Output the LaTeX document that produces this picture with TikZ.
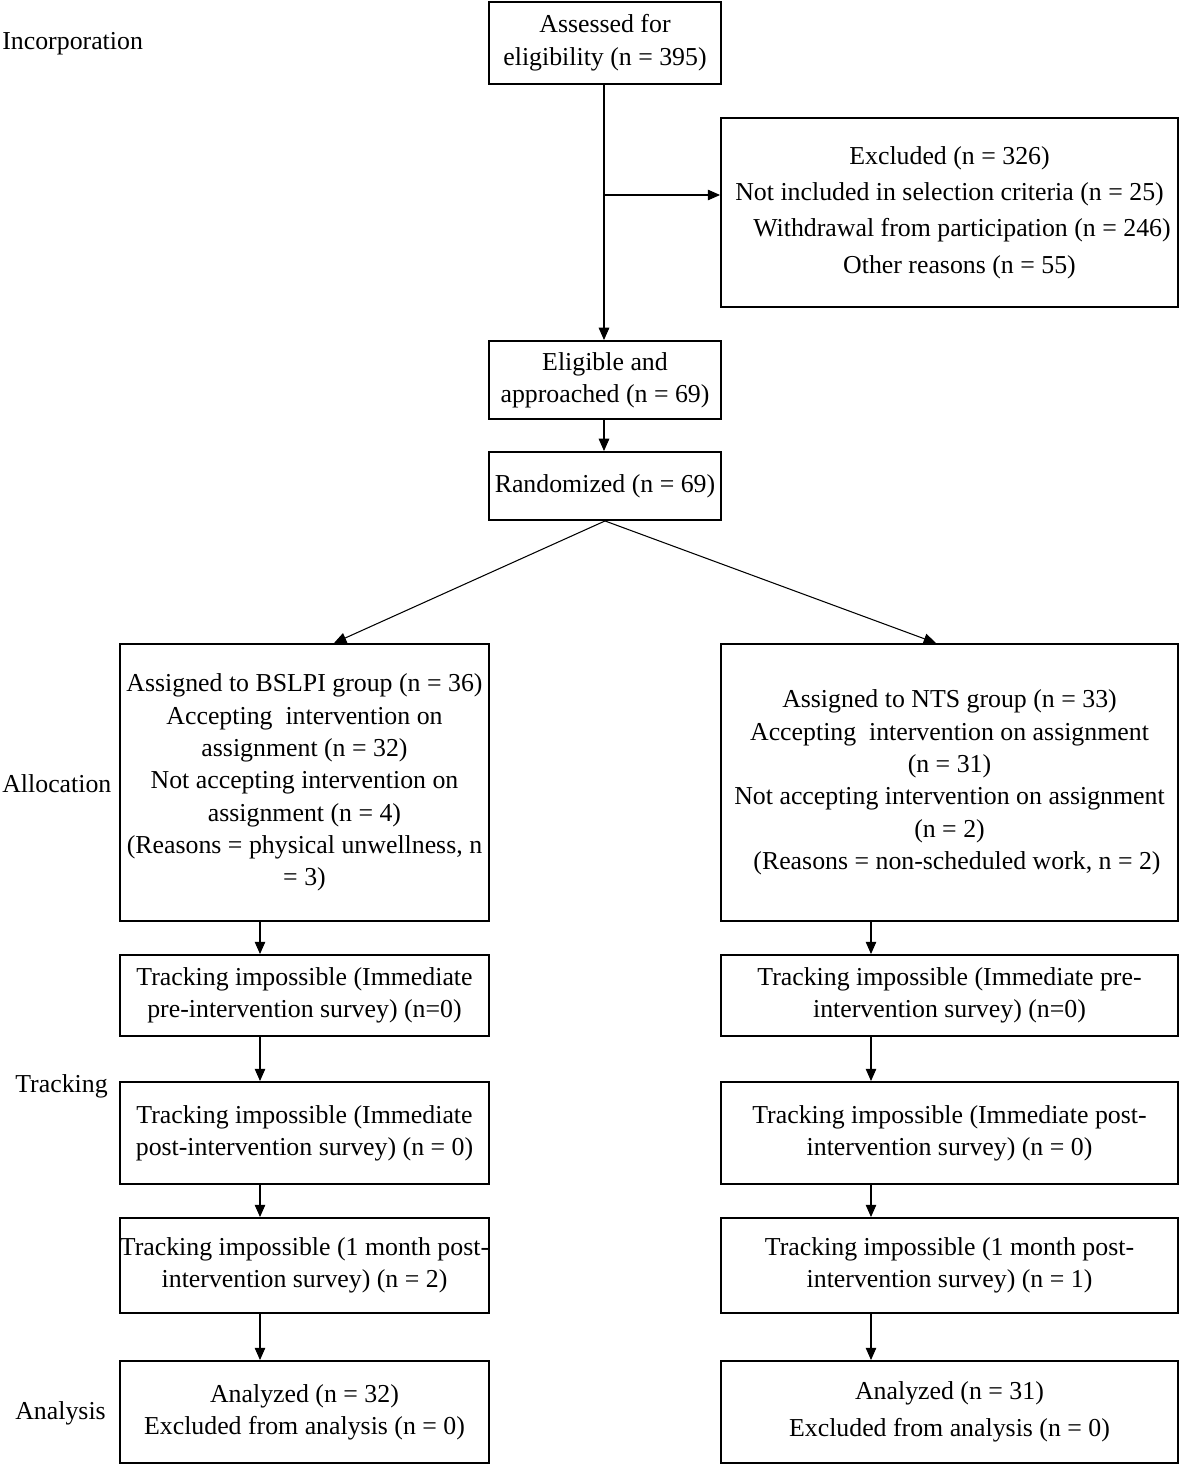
\documentclass[tikz,border=0pt]{standalone}
\usepackage{fontspec}
\setmainfont{Liberation Serif}
\usetikzlibrary{arrows.meta}

\tikzset{
  box/.style={draw, line width=1.1pt, inner sep=0pt, align=center,
    font=\fontsize{14.7}{18.4}\selectfont},
  midbox/.style={box, minimum width=4.64cm},
  leftbox/.style={box, minimum width=7.38cm},
  rightbox/.style={box, minimum width=9.14cm},
  wide/.style={font=\fontsize{14.7}{#1}\selectfont},
  arr/.style={line width=0.6pt, -{Triangle[length=7pt,width=6pt]}},
  phase/.style={anchor=west, inner sep=0pt, font=\fontsize{14.7}{18.4}\selectfont}
}

\begin{document}
\begin{tikzpicture}[x=0.02cm,y=-0.02cm]
\useasboundingbox (0,0) rectangle (1180,1466);

% phases
\node[phase] (incorp) at (2,44) {Incorporation};
\node[phase] (alloc) at (2,784) {Allocation};
\node[phase] (track) at (15,1086) {Tracking};
\node[phase] (anal) at (15,1413) {Analysis};

% top
\node[midbox, wide=18.8pt, minimum height=1.64cm] (assess) at (605,43) {Assessed for\\eligibility (n = 395)};
\node[rightbox, wide=20.7pt, minimum height=3.78cm] (excl) at (949.5,212.5) {Excluded (n = 326)\\Not included in selection criteria (n = 25)\\\hspace*{0.5cm}Withdrawal from participation (n = 246)\\\hspace*{0.4cm}Other reasons (n = 55)};
\node[midbox, minimum height=1.56cm] (elig) at (605,380) {Eligible and\\approached (n = 69)};
\node[midbox, minimum height=1.36cm] (rand) at (605,486) {Randomized (n = 69)};

% BSLPI column
\node[leftbox, minimum height=5.54cm] (bslpi) at (304.5,782.5) {Assigned to BSLPI group (n = 36)\\Accepting\ \ intervention on\\assignment (n = 32)\\Not accepting intervention on\\assignment (n = 4)\\(Reasons = physical unwellness, n\\= 3)};
\node[leftbox, minimum height=1.62cm] (bpre) at (304.5,995.5) {Tracking impossible (Immediate\\pre-intervention survey) (n=0)};
\node[leftbox, minimum height=2.04cm] (bpost) at (304.5,1133) {Tracking impossible (Immediate\\post-intervention survey) (n = 0)};
\node[leftbox, minimum height=1.9cm] (bmonth) at (304.5,1265.5) {Tracking impossible (1 month post-\\intervention survey) (n = 2)};
\node[leftbox, minimum height=2.04cm] (bana) at (304.5,1412) {Analyzed (n = 32)\\Excluded from analysis (n = 0)};

% NTS column
\node[rightbox, minimum height=5.54cm] (nts) at (949.5,782.5) {Assigned to NTS group (n = 33)\\Accepting\ \ intervention on assignment\\(n = 31)\\Not accepting intervention on assignment\\(n = 2)\\\hspace*{0.3cm}(Reasons = non-scheduled work, n = 2)};
\node[rightbox, minimum height=1.62cm] (npre) at (949.5,995.5) {Tracking impossible (Immediate pre-\\intervention survey) (n=0)};
\node[rightbox, minimum height=2.04cm] (npost) at (949.5,1133) {Tracking impossible (Immediate post-\\intervention survey) (n = 0)};
\node[rightbox, minimum height=1.9cm] (nmonth) at (949.5,1265.5) {Tracking impossible (1 month post-\\intervention survey) (n = 1)};
\node[rightbox, wide=21pt, minimum height=2.04cm] (nana) at (949.5,1412) {Analyzed (n = 31)\\Excluded from analysis (n = 0)};

% connectors
\coordinate (split) at (604,195);
\coordinate (lx) at (260,0);
\coordinate (rx) at (871,0);
\draw[line width=0.6pt] (assess.south -| split) -- (split);
\draw[arr] (split) -- (elig.north -| split);
\draw[arr] (split) -- (split -| excl.west);
\draw[arr] (elig.south -| split) -- (rand.north -| split);
\draw[arr] (rand.south) -- ([xshift=0.59cm]bslpi.north);
\draw[arr] (rand.south) -- ([xshift=-0.27cm]nts.north);
\draw[arr] (bslpi.south -| lx) -- (bpre.north -| lx);
\draw[arr] (bpre.south -| lx) -- (bpost.north -| lx);
\draw[arr] (bpost.south -| lx) -- (bmonth.north -| lx);
\draw[arr] (bmonth.south -| lx) -- (bana.north -| lx);
\draw[arr] (nts.south -| rx) -- (npre.north -| rx);
\draw[arr] (npre.south -| rx) -- (npost.north -| rx);
\draw[arr] (npost.south -| rx) -- (nmonth.north -| rx);
\draw[arr] (nmonth.south -| rx) -- (nana.north -| rx);
\end{tikzpicture}
\end{document}
